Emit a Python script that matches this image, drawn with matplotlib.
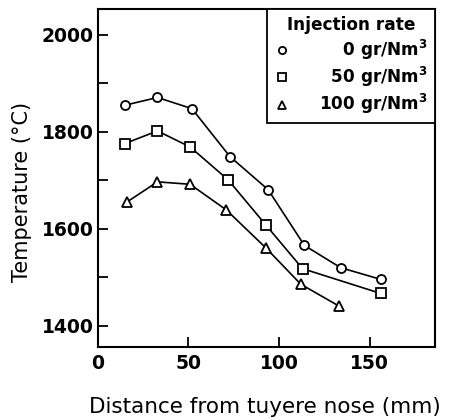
import matplotlib
matplotlib.use("Agg")
import matplotlib.pyplot as plt

# distances from tuyere nose (mm) and temperatures (deg C) per injection rate
dist_0 = [15, 33, 52, 73, 94, 114, 134, 156]
temp_0 = [1855, 1871, 1848, 1749, 1681, 1566, 1520, 1496]

dist_50 = [15, 33, 51, 72, 93, 113, 156]
temp_50 = [1776, 1802, 1769, 1701, 1607, 1518, 1467]

dist_100 = [16, 33, 51, 71, 93, 112, 133]
temp_100 = [1655, 1697, 1692, 1639, 1560, 1486, 1441]

labels = ["\u2007\u20070 gr/Nm$^3$", "\u200750 gr/Nm$^3$", "100 gr/Nm$^3$"]
markers = ["o", "s", "^"]

plt.rcParams["font.family"] = ["DejaVu Sans"]
plt.rcParams["font.weight"] = "bold"

fig = plt.figure(figsize=(4.54, 4.20), dpi=100)
ax = fig.add_axes([0.215, 0.1745, 0.743, 0.8035])

series = [(dist_0, temp_0), (dist_50, temp_50), (dist_100, temp_100)]
for (x, y), m, lab in zip(series, markers, labels):
    ax.plot(x, y, "-", color="black", lw=1.2, marker=m, ms=6.5,
            mfc="white", mec="black", mew=1.3, label=lab)

ax.set_xlim(0, 186)
ax.set_ylim(1357, 2053)
ax.set_xticks([0, 50, 100, 150])
ax.set_yticks([1400, 1600, 1800, 2000])
ax.set_yticks([1500, 1700, 1900], minor=True)
ax.tick_params(axis="both", which="both", direction="in", length=7, width=1.3,
               labelsize=13.5, top=False, right=False)
ax.tick_params(axis="x", pad=5)
ax.tick_params(axis="y", pad=3)
for s in ax.spines.values():
    s.set_linewidth(1.5)

ax.set_xlabel("Distance from tuyere nose (mm)", fontsize=15.5)
ax.set_ylabel("Temperature (\u00b0C)", fontsize=15)
ax.xaxis.set_label_coords(0.496, -0.15)
ax.yaxis.set_label_coords(-0.195, 0.46)

leg = ax.legend(loc="upper right", borderaxespad=0, fancybox=False,
                edgecolor="black", framealpha=1, fontsize=12.2,
                title="Injection rate", title_fontproperties={"weight": "bold", "size": 12.2},
                handlelength=1.0, handletextpad=1.7, labelspacing=0.2,
                borderpad=0.4, markerscale=0.8)
leg.get_frame().set_linewidth(1.3)
for h in leg.legend_handles:
    h.set_linestyle("none")

fig.savefig("out.png", dpi=100)
